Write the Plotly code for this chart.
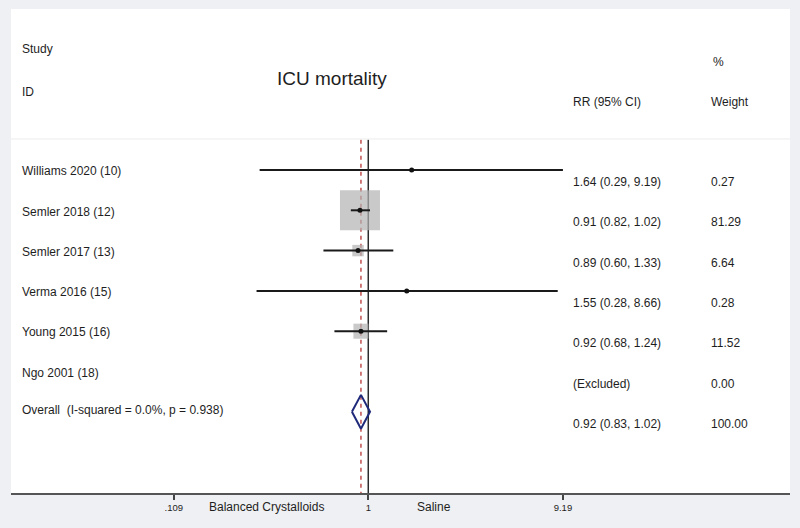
import math
import plotly.graph_objects as go

# ---------------- data ----------------
studies = ["Williams 2020 (10)", "Semler 2018 (12)", "Semler 2017 (13)",
           "Verma 2016 (15)", "Young 2015 (16)", "Ngo 2001 (18)"]
rr = [1.64, 0.91, 0.89, 1.55, 0.92, None]
lcl = [0.29, 0.82, 0.60, 0.28, 0.68, None]
ucl = [9.19, 1.02, 1.33, 8.66, 1.24, None]
weights = [0.27, 81.29, 6.64, 0.28, 11.52, 0.00]
rr_text = ["1.64 (0.29, 9.19)", "0.91 (0.82, 1.02)", "0.89 (0.60, 1.33)",
           "1.55 (0.28, 8.66)", "0.92 (0.68, 1.24)", "(Excluded)"]
weight_text = ["0.27", "81.29", "6.64", "0.28", "11.52", "0.00"]

overall_label = "Overall  (I-squared = 0.0%, p = 0.938)"
overall_rr, overall_lcl, overall_ucl = 0.92, 0.83, 1.02
overall_rr_text = "0.92 (0.83, 1.02)"
overall_weight_text = "100.00"

tick_vals = [0.109, 1, 9.19]
tick_text = [".109", "1", "9.19"]

# ---------------- styles ----------------
FONT = "Liberation Sans, Arial, sans-serif"
TXT = "#1e1e1e"
BG = "#eff0f3"
BOX_MAX = 40  # px side for largest weight
max_w = max(weights)

rows = list(range(len(studies)))
overall_row = len(studies)
top_y, bottom_y = -3.995, 8.015

fig = go.Figure()

# reference lines (null line and overall estimate)
fig.add_trace(go.Scatter(x=[1, 1], y=[-0.75, bottom_y], mode="lines",
                         line=dict(color="#2b2b2b", width=1.5), hoverinfo="skip"))
fig.add_trace(go.Scatter(x=[overall_rr, overall_rr], y=[-0.75, bottom_y], mode="lines",
                         line=dict(color="#c0504d", width=1.5, dash="4px,4px"), hoverinfo="skip"))

# weight boxes
bx, by, bs = [], [], []
for i in rows:
    if rr[i] is not None:
        bx.append(rr[i]); by.append(i)
        bs.append(max(1, BOX_MAX * math.sqrt(weights[i] / max_w)))
fig.add_trace(go.Scatter(x=bx, y=by, mode="markers",
                         marker=dict(symbol="square", size=bs, color="#b2b2b2",
                                     line=dict(width=0)), hoverinfo="skip"))

# CI lines
cx, cy = [], []
for i in rows:
    if rr[i] is not None:
        cx += [lcl[i], ucl[i], None]
        cy += [i, i, None]
fig.add_trace(go.Scatter(x=cx, y=cy, mode="lines",
                         line=dict(color="#1a1a1a", width=2), hoverinfo="skip"))

# point estimates
fig.add_trace(go.Scatter(x=bx, y=by, mode="markers",
                         marker=dict(size=5, color="#111111"), hoverinfo="skip"))

# overall diamond
h = 0.42
fig.add_trace(go.Scatter(
    x=[overall_lcl, overall_rr, overall_ucl, overall_rr, overall_lcl],
    y=[overall_row, overall_row - h, overall_row, overall_row + h, overall_row],
    mode="lines", line=dict(color="#1f2a7a", width=2), hoverinfo="skip"))

# ---------------- text ----------------
ann = []
def txt(text, x, y, size=12, xanchor="left", yref="y", xref="paper"):
    ann.append(dict(text=text, x=x, y=y, xref=xref, yref=yref, showarrow=False,
                    xanchor=xanchor, yanchor="middle",
                    font=dict(family=FONT, size=size, color=TXT)))

X_LABEL, X_RR, X_W = 0.0116, 0.7189, 0.896
for i in rows:
    txt(studies[i], X_LABEL, i + 0.03)
    txt(rr_text[i], X_RR, i + 0.3)
    txt(weight_text[i], X_W, i + 0.3)
txt(overall_label, X_LABEL, overall_row - 0.05)
txt(overall_rr_text, X_RR, overall_row + 0.3)
txt(overall_weight_text, X_W, overall_row + 0.3)

txt("Study", X_LABEL, -3.0)
txt("ID", X_LABEL, -1.94)
txt("%", 0.8985, -2.68)
txt("RR (95% CI)", X_RR, -1.69)
txt("Weight", X_W, -1.69)
txt("ICU mortality", 0.412, -2.28, size=19, xanchor="center")

txt("Balanced Crystalloids", 0.3286, -0.029, size=12, xanchor="center", yref="paper")
txt("Saline", 0.543, -0.029, size=12, xanchor="center", yref="paper")

fig.update_layout(
    width=800, height=528,
    margin=dict(l=11, r=10, t=9, b=35),
    paper_bgcolor=BG, plot_bgcolor="#ffffff",
    showlegend=False,
    annotations=ann,
    shapes=[dict(type="line", xref="paper", x0=0, x1=1, yref="y", y0=-0.77, y1=-0.77,
                 line=dict(color="#ececec", width=1))],
    xaxis=dict(type="log", range=[-1.768, 2.087], tickvals=tick_vals, ticktext=tick_text,
               ticks="outside", ticklen=5, tickwidth=1.5, tickcolor="#444444",
               showline=True, linecolor="#555555", linewidth=2,
               showgrid=False, zeroline=False,
               tickfont=dict(family=FONT, size=9.5, color=TXT)),
    yaxis=dict(range=[bottom_y, top_y], visible=False, showgrid=False, zeroline=False),
)

fig.write_html("out.html",
               config={"displayModeBar": False},
               post_script="document.body.style.margin='0';"
                           "document.body.style.background='%s';" % BG)
